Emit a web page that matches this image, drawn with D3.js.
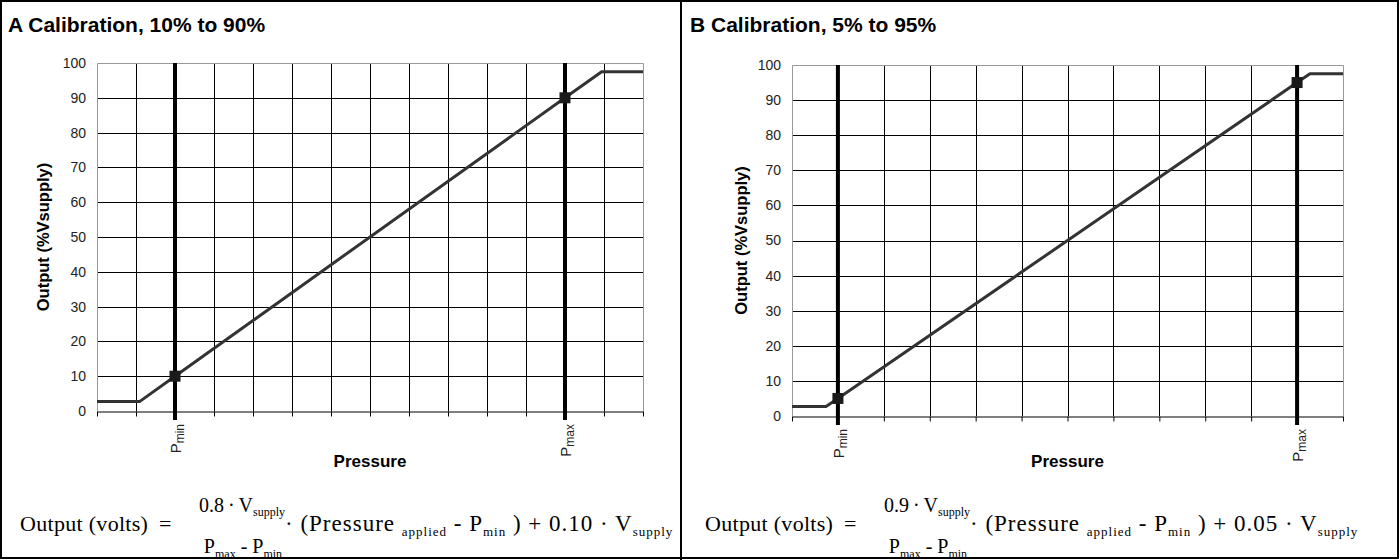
<!DOCTYPE html>
<html><head><meta charset="utf-8">
<script src="https://cdn.jsdelivr.net/npm/d3@7"></script>
<style>body{margin:0;background:#fff}svg{display:block}</style>
</head><body><svg id="c" width="1400" height="560"></svg>
<script>
// ---------- data ----------
const panelTitles = ["A Calibration, 10% to 90%", "B Calibration, 5% to 95%"];
const yTicks = [0, 10, 20, 30, 40, 50, 60, 70, 80, 90, 100];
const xTicksA = [0, 1, 2, 3, 4, 5, 6, 7, 8, 9, 10, 11, 12, 13, 14];
const xTicksB = [0, 1, 2, 3, 4, 5, 6, 7, 8, 9, 10, 11, 12];
const curveAx = [0, 1.09, 2, 12, 12.94, 14];
const curveAy = [2.7, 2.7, 10, 90, 97.5, 97.5];
const curveBx = [0, 0.74, 1, 11, 11.28, 12];
const curveBy = [2.7, 2.7, 5, 95, 97.5, 97.5];
const markersAx = [2, 12], markersAy = [10, 90];
const markersBx = [1, 11], markersBy = [5, 95];
const pLabels = ["min", "max"];
const pLinesA = [2, 12];
const pLinesB = [1, 11];
const yTitle = "Output (%Vsupply)";
const xTitle = "Pressure";
const gainLabels = ["0.8", "0.9"];
const offsetLabels = ["0.10", "0.05"];

// ---------- drawing ----------
const svg = d3.select("#c");
const SANS = "'Liberation Sans', Arial, sans-serif";
const SERIF = "'Liberation Serif', 'Times New Roman', serif";

svg.append("rect").attr("x", 1).attr("y", 1).attr("width", 1397).attr("height", 557)
  .attr("fill", "#fff").attr("stroke", "#000").attr("stroke-width", 2);
svg.append("line").attr("x1", 681).attr("x2", 681).attr("y1", 0).attr("y2", 560)
  .attr("stroke", "#000").attr("stroke-width", 2);

function drawPanel(o) {
  const g = svg.append("g");
  const xMax = o.xTicks[o.xTicks.length - 1];
  const x = d3.scaleLinear().domain([0, xMax]).range([o.x0, o.x1]);
  const y = d3.scaleLinear().domain([0, 100]).range([o.yBot, o.yTop]);

  g.append("text").attr("x", o.titleX).attr("y", 32).text(o.title)
    .attr("font-family", SANS).attr("font-weight", "bold").attr("font-size", 21);

  // horizontal grid
  g.selectAll(".hg").data(yTicks.filter(v => v > 0 && v < 100)).join("line")
    .attr("x1", o.x0).attr("x2", o.x1).attr("y1", d => Math.round(y(d)) + 0.5).attr("y2", d => Math.round(y(d)) + 0.5)
    .attr("stroke", "#000").attr("stroke-width", 1);
  // vertical grid
  g.selectAll(".vg").data(o.xTicks.filter(v => v > 0 && v < xMax)).join("line")
    .attr("x1", d => Math.round(x(d)) + 0.5).attr("x2", d => Math.round(x(d)) + 0.5)
    .attr("y1", o.yTop).attr("y2", o.yBot).attr("stroke", "#000").attr("stroke-width", 1);
  // plot border (gray)
  g.append("path")
    .attr("d", `M${o.x0 + 0.5},${o.yBot}V${Math.round(y(100)) + 0.5}H${o.x1 + 0.5}V${o.yBot}`)
    .attr("fill", "none").attr("stroke", "#999").attr("stroke-width", 1);

  // x axis
  const xa = g.append("g").attr("transform", `translate(0,${Math.round(y(0)) + 0.5})`)
    .call(d3.axisBottom(x).tickValues(o.xTicks).tickSize(5).tickSizeOuter(0).tickFormat(""));
  xa.selectAll("path,line").attr("stroke", "#000");

  // y axis labels
  const ya = g.append("g").attr("transform", `translate(${o.x0},0)`)
    .call(d3.axisLeft(y).tickValues(yTicks).tickSize(0).tickPadding(11));
  ya.select(".domain").remove();
  ya.selectAll("text").attr("font-family", SANS).attr("font-size", 14).attr("fill", "#222");

  // y title
  g.append("text").attr("transform", `translate(${o.yTitleX},${(o.yTop + o.yBot) / 2}) rotate(-90)`)
    .attr("text-anchor", "middle").attr("font-family", SANS).attr("font-weight", "bold")
    .attr("font-size", 16.5).text(yTitle);
  // x title
  g.append("text").attr("x", (o.x0 + o.x1) / 2).attr("y", 467).attr("text-anchor", "middle")
    .attr("font-family", SANS).attr("font-weight", "bold").attr("font-size", 17).text(xTitle);

  // Pmin / Pmax lines
  g.selectAll(".pl").data(o.pLines).join("line")
    .attr("x1", d => x(d)).attr("x2", d => x(d)).attr("y1", o.yTop).attr("y2", y(0) + 9)
    .attr("stroke", "#000").attr("stroke-width", 4);
  const pl = g.selectAll(".plab").data(o.pLines).join("text")
    .attr("transform", d => `translate(${x(d) + 6},${y(0) + 13}) rotate(-90)`)
    .attr("text-anchor", "end").attr("font-family", SANS).attr("font-size", 15).attr("fill", "#222");
  pl.append("tspan").text("P");
  pl.append("tspan").attr("font-size", 12).attr("dy", 3).text((d, i) => pLabels[i]);

  // curve
  const pts = o.cx.map((v, i) => [v, o.cy[i]]);
  g.append("path").datum(pts)
    .attr("d", d3.line().x(d => x(d[0])).y(d => y(d[1])))
    .attr("fill", "none").attr("stroke", "#333").attr("stroke-width", 3).attr("stroke-linejoin", "round");
  // markers
  const mk = o.mx.map((v, i) => [v, o.my[i]]);
  g.selectAll(".mk").data(mk).join("rect")
    .attr("x", d => x(d[0]) - 5.5).attr("y", d => y(d[1]) - 5.5).attr("width", 11).attr("height", 11)
    .attr("fill", "#1a1a1a");

  // formula
  const f = svg.append("g").attr("font-family", SERIF).attr("fill", "#000");
  const fx = o.fx, base = 531, fs = 22, ffs = 20, ss = 13;
  f.append("text").attr("x", fx).attr("y", base).attr("font-size", fs).attr("letter-spacing", 0.3).text("Output (volts)");
  f.append("text").attr("x", fx + 139).attr("y", base).attr("font-size", fs).text("=");
  const num = f.append("text").attr("x", fx + 222).attr("y", 512).attr("text-anchor", "middle").attr("font-size", ffs);
  num.append("tspan").text(o.gain + "\u2009\u00b7\u2009V");
  num.append("tspan").attr("font-size", 12).attr("dy", 4).text("supply");
  const den = f.append("text").attr("x", fx + 223).attr("y", 553).attr("text-anchor", "middle").attr("font-size", ffs);
  den.append("tspan").text("P");
  den.append("tspan").attr("font-size", 12).attr("dy", 5).text("max");
  den.append("tspan").attr("dy", -5).text("  -  P");
  den.append("tspan").attr("font-size", 12).attr("dy", 5).text("min");
  const rest = f.append("text").attr("x", fx + 265).attr("y", base).attr("font-size", 23).attr("letter-spacing", 1);
  rest.append("tspan").text("\u00b7 (Pressure ");
  rest.append("tspan").attr("font-size", ss).attr("dy", 5).text("applied");
  rest.append("tspan").attr("dy", -5).text(" - P");
  rest.append("tspan").attr("font-size", ss).attr("dy", 5).text("min");
  rest.append("tspan").attr("dy", -5).text(" ) + " + o.offset + " \u00b7 V");
  rest.append("tspan").attr("font-size", ss).attr("dy", 5).text("supply");
}

drawPanel({
  title: panelTitles[0], titleX: 8, x0: 97, x1: 643, yTop: 63, yBot: 411,
  xTicks: xTicksA, cx: curveAx, cy: curveAy, mx: markersAx, my: markersAy,
  pLines: pLinesA, yTitleX: 49, fx: 20, gain: gainLabels[0], offset: offsetLabels[0]
});
drawPanel({
  title: panelTitles[1], titleX: 690, x0: 792, x1: 1343, yTop: 65, yBot: 416,
  xTicks: xTicksB, cx: curveBx, cy: curveBy, mx: markersBx, my: markersBy,
  pLines: pLinesB, yTitleX: 747, fx: 705, gain: gainLabels[1], offset: offsetLabels[1]
});
</script></body></html>
